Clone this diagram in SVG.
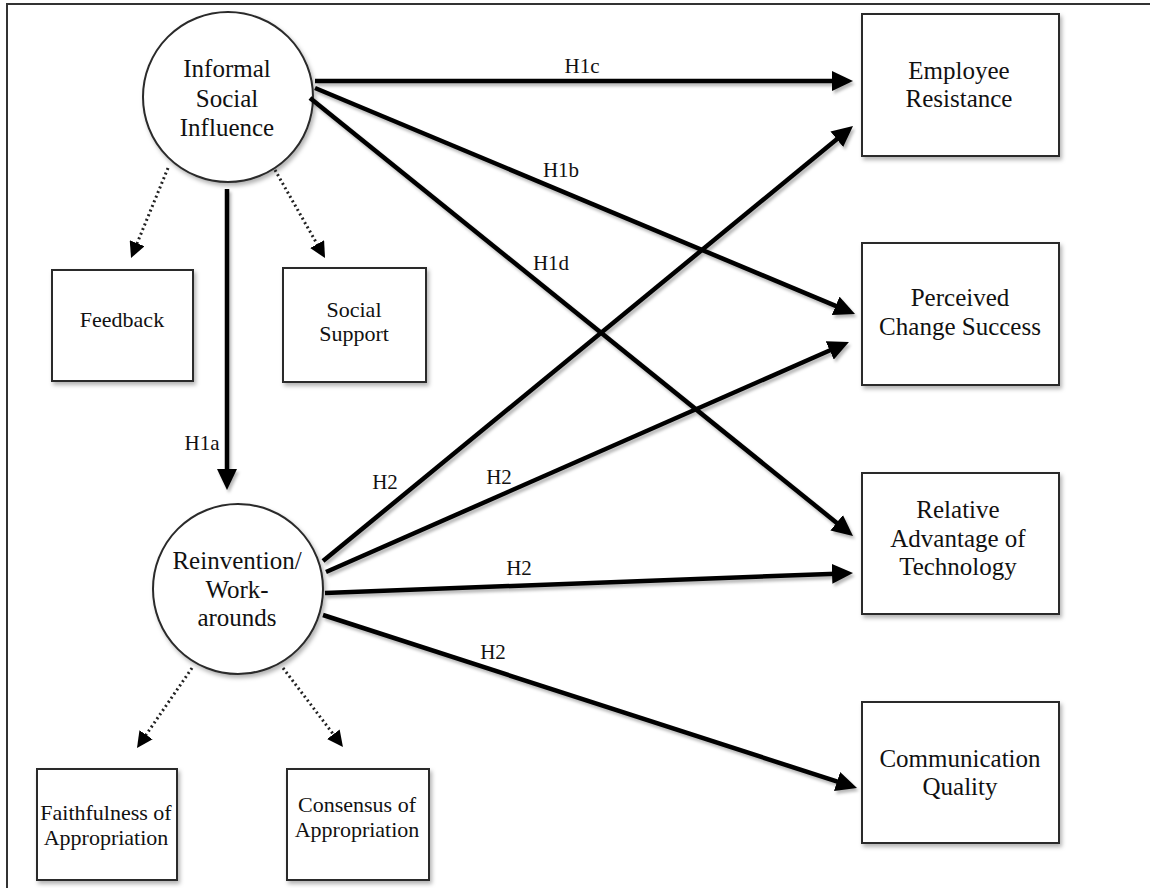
<svg xmlns="http://www.w3.org/2000/svg" width="1150" height="888" viewBox="0 0 1150 888">
  <style>
    .box { fill: #fff; stroke: #2a2a2a; stroke-width: 2; filter: url(#shadow); }
    .node-text { font-family: "Liberation Serif", "Times New Roman", serif; font-size: 25px; fill: #111; text-anchor: middle; }
    .small-text { font-family: "Liberation Serif", "Times New Roman", serif; font-size: 22px; fill: #111; text-anchor: middle; }
    .label { font-family: "Liberation Serif", "Times New Roman", serif; font-size: 21px; fill: #111; text-anchor: middle; }
    .solid { stroke: #000; stroke-width: 4.5; fill: none; marker-end: url(#head); }
    .dotted { stroke: #222; stroke-width: 3; stroke-dasharray: 2 3; fill: none; marker-end: url(#headSmall); }
    .frame { stroke: #333; stroke-width: 2; fill: none; }
  </style>
  <defs>
    <filter id="shadow" x="-10%" y="-10%" width="130%" height="130%">
      <feDropShadow dx="2" dy="3" stdDeviation="2" flood-color="#000" flood-opacity="0.3"/>
    </filter>
    <!-- canvas-wide region so straight horizontal/vertical lines keep their shadow -->
    <filter id="lineShadow" filterUnits="userSpaceOnUse" x="0" y="0" width="1150" height="888">
      <feDropShadow dx="2" dy="3" stdDeviation="1.8" flood-color="#000" flood-opacity="0.28"/>
    </filter>
    <marker id="head" markerUnits="userSpaceOnUse" markerWidth="21" markerHeight="20" refX="11" refY="10" orient="auto">
      <path d="M0,0 L21,10 L0,20 z" fill="#000"/>
    </marker>
    <marker id="headSmall" markerUnits="userSpaceOnUse" markerWidth="16" markerHeight="16" refX="4" refY="8" orient="auto">
      <path d="M0,0 L16,8 L0,16 z" fill="#000"/>
    </marker>
  </defs>

  <rect width="1150" height="888" fill="#fff"/>
  <!-- frame edges -->
  <path class="frame" d="M7,888 L7,4 L1150,4"/>

  <!-- nodes -->
  <g id="informal-social-influence">
    <circle class="box" cx="228" cy="97" r="85"/>
    <text class="node-text" x="227" y="77">Informal</text>
    <text class="node-text" x="227" y="107">Social</text>
    <text class="node-text" x="227" y="136">Influence</text>
  </g>
  <g id="reinvention">
    <circle class="box" cx="238" cy="589" r="85"/>
    <text class="node-text" x="237" y="569">Reinvention/</text>
    <text class="node-text" x="237" y="598">Work-</text>
    <text class="node-text" x="237" y="626">arounds</text>
  </g>
  <g id="feedback">
    <rect class="box" x="52" y="270" width="141" height="111"/>
    <text class="small-text" x="122" y="327">Feedback</text>
  </g>
  <g id="social-support">
    <rect class="box" x="283" y="268" width="143" height="114"/>
    <text class="small-text" x="354" y="317">Social</text>
    <text class="small-text" x="354" y="341">Support</text>
  </g>
  <g id="faithfulness">
    <rect class="box" x="37" y="769" width="140" height="111"/>
    <text class="small-text" x="106" y="820">Faithfulness of</text>
    <text class="small-text" x="106" y="845">Appropriation</text>
  </g>
  <g id="consensus">
    <rect class="box" x="287" y="769" width="142" height="111"/>
    <text class="small-text" x="357" y="812">Consensus of</text>
    <text class="small-text" x="357" y="837">Appropriation</text>
  </g>
  <g id="employee-resistance">
    <rect class="box" x="862" y="14" width="197" height="142"/>
    <text class="node-text" x="959" y="79">Employee</text>
    <text class="node-text" x="959" y="107">Resistance</text>
  </g>
  <g id="perceived-change-success">
    <rect class="box" x="862" y="243" width="197" height="142"/>
    <text class="node-text" x="960" y="306">Perceived</text>
    <text class="node-text" x="960" y="335">Change Success</text>
  </g>
  <g id="relative-advantage">
    <rect class="box" x="862" y="473" width="197" height="141"/>
    <text class="node-text" x="958" y="518">Relative</text>
    <text class="node-text" x="958" y="547">Advantage of</text>
    <text class="node-text" x="958" y="575">Technology</text>
  </g>
  <g id="communication-quality">
    <rect class="box" x="862" y="702" width="197" height="141"/>
    <text class="node-text" x="960" y="767">Communication</text>
    <text class="node-text" x="960" y="795">Quality</text>
  </g>

  <!-- connectors -->
  <g id="connectors">
    <g filter="url(#lineShadow)">
      <line class="solid" x1="227" y1="189" x2="227" y2="480"/>
      <line class="solid" x1="315" y1="81" x2="843" y2="81"/>
      <line class="solid" x1="315" y1="88" x2="845.8" y2="310.1"/>
      <line class="solid" x1="310" y1="98" x2="845.2" y2="529.7"/>
      <line class="solid" x1="323" y1="561" x2="845.3" y2="132.3"/>
      <line class="solid" x1="326" y1="572" x2="839.8" y2="346"/>
      <line class="solid" x1="325" y1="593" x2="843" y2="573.4"/>
      <line class="solid" x1="323" y1="615" x2="847.5" y2="784.9"/>
    </g>

    <line class="dotted" x1="168" y1="168" x2="135.6" y2="246.9"/>
    <line class="dotted" x1="275" y1="170" x2="319.1" y2="247.6"/>
    <line class="dotted" x1="192" y1="668" x2="143.8" y2="738.1"/>
    <line class="dotted" x1="283" y1="668" x2="335.7" y2="737.4"/>

    <text class="label" x="202" y="450">H1a</text>
    <text class="label" x="582" y="73">H1c</text>
    <text class="label" x="561" y="177">H1b</text>
    <text class="label" x="551" y="270">H1d</text>
    <text class="label" x="385" y="489">H2</text>
    <text class="label" x="499" y="484">H2</text>
    <text class="label" x="519" y="575">H2</text>
    <text class="label" x="493" y="659">H2</text>
  </g>
</svg>
